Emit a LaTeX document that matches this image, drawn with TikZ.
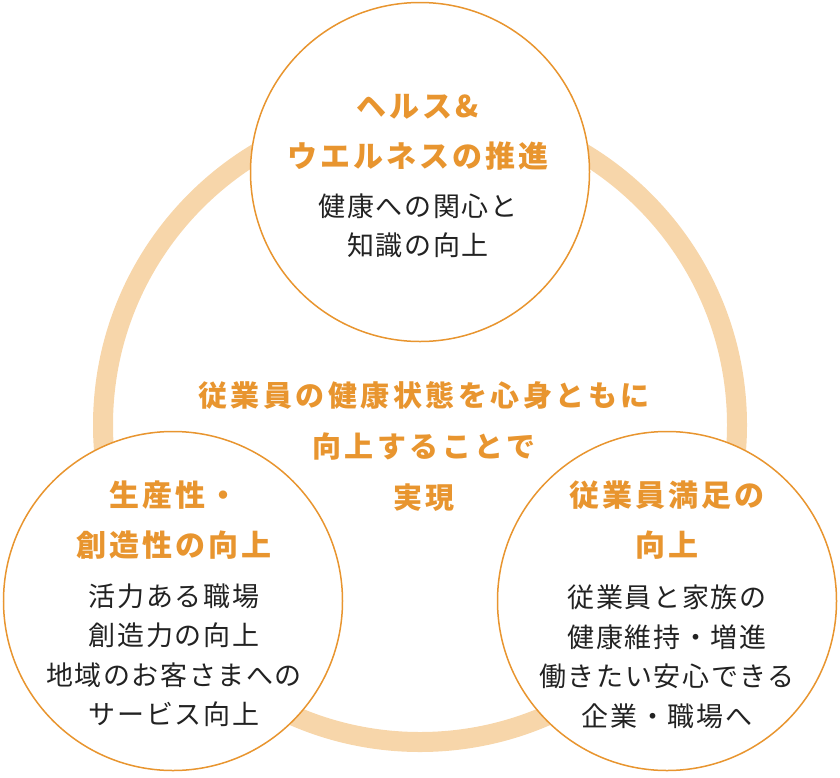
\documentclass[tikz,border=0pt]{standalone}
\usepackage{fontspec}
\usepackage{xcolor}
\newfontfamily\jpbody{Noto Sans CJK JP}[LetterSpace=6]
\newfontfamily\jphead{Noto Sans CJK JP}[LetterSpace=10]
\newfontfamily\jpmid{Noto Sans CJK JP}[LetterSpace=12]
\definecolor{ringcol}{HTML}{F7D6AA}
\definecolor{orangecol}{HTML}{E8952F}
\definecolor{bodycol}{HTML}{222222}
\tikzset{
    theme/.style={
        circle,
        draw=orangecol,
        line width=1.5pt,
        fill=white,
        minimum size=339pt,
        inner sep=0pt
    },
    headtext/.style={
        align=center,
        inner sep=0pt,
        text=orangecol,
        font=\jphead\bfseries\fontsize{30}{50}\selectfont
    },
    bodytext/.style={
        align=center,
        inner sep=0pt,
        text=bodycol,
        font=\jpbody\fontsize{27}{39.5}\selectfont
    },
    midtext/.style={
        align=center,
        inner sep=0pt,
        text=orangecol,
        font=\jpmid\bfseries\fontsize{29}{51}\selectfont
    }
}

\begin{document}
\begin{tikzpicture}[x=1pt,y=-1pt]
    \useasboundingbox (0,0) rectangle (840,777);

    % ring behind the three circles
    \draw[ringcol, line width=20pt] (420,425) circle (317pt);

    \node[theme] (health) at (420,172) {};
    \node[theme] (prod) at (173,601) {};
    \node[theme] (satis) at (667,601) {};

    % top circle
    \node[headtext] (healthhead) at (418,132) {ヘルス\&\\ウエルネスの推進};
    \node[bodytext] (healthbody) at (418,226) {健康への関心と\\知識の向上};

    % centre text
    \node[midtext] (goal) at (424,446) {従業員の健康状態を心身ともに\\向上することで\\実現};

    % bottom left
    \node[headtext] (prodhead) at (174,520) {生産性・\\創造性の向上};
    \node[bodytext] (prodbody) at (174,655) {活力ある職場\\創造力の向上\\地域のお客さまへの\\サービス向上};

    % bottom right
    \node[headtext] (satishead) at (667,520) {従業員満足の\\向上};
    \node[bodytext] (satisbody) at (667,657) {従業員と家族の\\健康維持・増進\\働きたい安心できる\\企業・職場へ};
\end{tikzpicture}
\end{document}
